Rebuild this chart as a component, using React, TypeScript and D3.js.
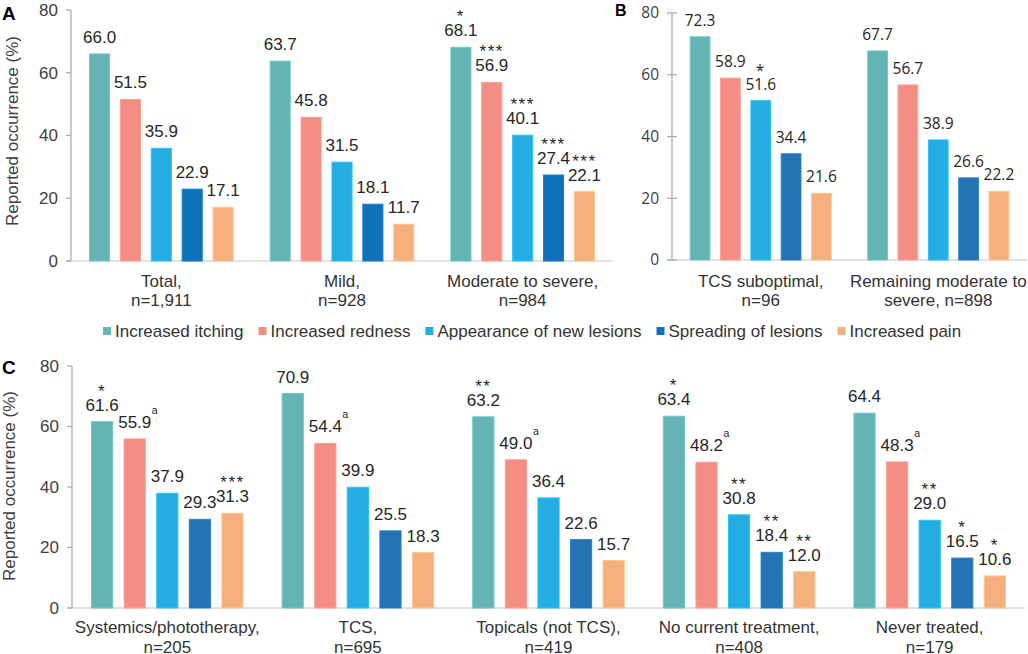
import * as d3 from "d3";
import * as React from "react";

const series = [
    "Increased itching",
    "Increased redness",
    "Appearance of new lesions",
    "Spreading of lesions",
    "Increased pain",
];
const coloursA = ["#63b4b2", "#f48d83", "#24ade3", "#1070b8", "#f5b07e"];
const coloursBC = ["#63b4b2", "#f48d83", "#24ade3", "#2473b5", "#f5b07e"];

const groupsA = [["Total,", "n=1,911"], ["Mild,", "n=928"], ["Moderate to severe,", "n=984"]];
const valuesA = [
    [66.0, 51.5, 35.9, 22.9, 17.1],
    [63.7, 45.8, 31.5, 18.1, 11.7],
    [68.1, 56.9, 40.1, 27.4, 22.1],
];
const starsA = [
    ["", "", "", "", ""],
    ["", "", "", "", ""],
    ["*", "***", "***", "***", "***"],
];

const groupsB = [["TCS suboptimal,", "n=96"], ["Remaining moderate to", "severe, n=898"]];
const valuesB = [
    [72.3, 58.9, 51.6, 34.4, 21.6],
    [67.7, 56.7, 38.9, 26.6, 22.2],
];
const starsB = [
    ["", "", "*", "", ""],
    ["", "", "", "", ""],
];

const groupsC = [
    ["Systemics/phototherapy,", "n=205"],
    ["TCS,", "n=695"],
    ["Topicals (not TCS),", "n=419"],
    ["No current treatment,", "n=408"],
    ["Never treated,", "n=179"],
];
const valuesC = [
    [61.6, 55.9, 37.9, 29.3, 31.3],
    [70.9, 54.4, 39.9, 25.5, 18.3],
    [63.2, 49.0, 36.4, 22.6, 15.7],
    [63.4, 48.2, 30.8, 18.4, 12.0],
    [64.4, 48.3, 29.0, 16.5, 10.6],
];
const starsC = [
    ["*", "", "", "", "***"],
    ["", "", "", "", ""],
    ["**", "", "", "", ""],
    ["*", "", "**", "**", "**"],
    ["", "", "**", "*", "*"],
];
const supsC = [
    ["", "a", "", "", ""],
    ["", "a", "", "", ""],
    ["", "a", "", "", ""],
    ["", "a", "", "", ""],
    ["", "a", "", "", ""],
];

const yTicks = [0, 20, 40, 60, 80];

const ARIAL = "'Liberation Sans', Arial, sans-serif";
const SEGOE = "'Open Sans', 'Noto Sans', sans-serif";

let canvasCtx: CanvasRenderingContext2D | null = null;
function textWidth(s: string, font: string): number {
    if (!canvasCtx) canvasCtx = document.createElement("canvas").getContext("2d");
    if (!canvasCtx) return s.length * 8;
    canvasCtx.font = font;
    return canvasCtx.measureText(s).width;
}

interface PanelProps {
    left: number;
    right: number;
    top: number;
    bottom: number;
    groups: string[][];
    values: number[][];
    stars: string[][];
    sups?: string[][];
    colours: string[];
    font: string;
    fontSize: number;
    crossTicks: boolean;
    catY: number;
    catGap: number;
}

function Panel(p: PanelProps): JSX.Element {
    const x0 = d3.scaleBand<number>()
        .domain(p.groups.map((_, i) => i))
        .range([p.left, p.right]);
    const x1 = d3.scaleBand<number>()
        .domain(series.map((_, i) => i))
        .range([0, x0.bandwidth()])
        .paddingInner(0.35)
        .paddingOuter(0.6);
    const y = d3.scaleLinear().domain([0, 80]).range([p.bottom, p.top]);
    const fmt = d3.format(".1f");
    const txt = "#262626";

    return (
        <g fontFamily={p.font} fontSize={p.fontSize}>
            <line x1={p.left - 4} x2={p.right} y1={y(0)} y2={y(0)} stroke="#d9d9d9" strokeWidth={1.5} />
            <line x1={p.left} x2={p.left} y1={y(80)} y2={y(0)} stroke="#a6a6a6" strokeWidth={1.2} />
            {yTicks.map(t => (
                <g key={t}>
                    <line x1={p.left - 5} x2={p.crossTicks ? p.left + 5 : p.left} y1={y(t)} y2={y(t)} stroke="#a6a6a6" strokeWidth={1.2} />
                    <text x={p.left - 13} y={y(t)} dy="0.35em" textAnchor="end" fill="#404040">{t}</text>
                </g>
            ))}
            {p.values.map((row, gi) => (
                <g key={gi} transform={`translate(${x0(gi)},0)`}>
                    {row.map((v, si) => {
                        const bx = x1(si) as number;
                        const cx = bx + x1.bandwidth() / 2;
                        const label = fmt(v);
                        const sup = p.sups ? p.sups[gi][si] : "";
                        const star = p.stars[gi][si];
                        const ly = y(v) - 11;
                        return (
                            <g key={si}>
                                <rect x={bx} y={y(v)} width={x1.bandwidth()} height={y(0) - y(v)}
                                    fill={p.colours[si]} stroke={d3.color(p.colours[si])!.brighter(0.3).toString()} strokeWidth={1} />
                                <text x={cx} y={ly} textAnchor="middle" fill={txt}>{label}</text>
                                {sup && (
                                    <text x={cx + textWidth(label, `${p.fontSize}px ${p.font}`) / 2 + 0.5} y={ly - 14}
                                        fontSize={p.fontSize * 0.62} fill={txt}>{sup}</text>
                                )}
                                {star && (
                                    <text x={cx} y={ly - 14} textAnchor="middle" fill={txt} letterSpacing={1.5}>{star}</text>
                                )}
                            </g>
                        );
                    })}
                    {p.groups[gi].map((line, li) => (
                        <text key={li} x={x0.bandwidth() / 2} y={p.catY + li * p.catGap} textAnchor="middle"
                            fontFamily={ARIAL} fontSize={17} fill="#333">{line}</text>
                    ))}
                </g>
            ))}
        </g>
    );
}

function Legend(props: { x: number; y: number }): JSX.Element {
    const font = `17px ${ARIAL}`;
    let cx = props.x;
    const items = series.map((s, i) => {
        const item = { s, i, x: cx };
        cx += 12 + textWidth(s, font) + 15;
        return item;
    });
    return (
        <g fontFamily={ARIAL} fontSize={17}>
            {items.map(it => (
                <g key={it.i} transform={`translate(${it.x},${props.y})`}>
                    <rect x={0} y={-4} width={8} height={8} fill={coloursA[it.i]} />
                    <text x={12} y={0} dy="0.35em" fill="#333">{it.s}</text>
                </g>
            ))}
        </g>
    );
}

export default function App(): JSX.Element {
    return (
        <svg width={1028} height={654} style={{ position: "absolute", left: 0, top: 0, background: "#fff" }}>
            <text x={2} y={20} fontFamily={ARIAL} fontWeight="bold" fontSize={19} fill="#000">A</text>
            <text x={615} y={16} fontFamily={ARIAL} fontWeight="bold" fontSize={16} fill="#000">B</text>
            <text x={2} y={374} fontFamily={ARIAL} fontWeight="bold" fontSize={19} fill="#000">C</text>

            <text transform="translate(18,131) rotate(-90)" textAnchor="middle" fontFamily={ARIAL} fontSize={17} fill="#404040">
                Reported occurrence (%)
            </text>
            <text transform="translate(15,486) rotate(-90)" textAnchor="middle" fontFamily={ARIAL} fontSize={17} fill="#404040">
                Reported occurrence (%)
            </text>

            <Panel left={71} right={613} top={10} bottom={261} groups={groupsA} values={valuesA} stars={starsA}
                colours={coloursA} font={ARIAL} fontSize={17} crossTicks={false} catY={287} catGap={19} />
            <Panel left={672} right={1027} top={13} bottom={260} groups={groupsB} values={valuesB} stars={starsB}
                colours={coloursBC} font={SEGOE} fontSize={15.5} crossTicks={true} catY={287} catGap={18.5} />
            <Panel left={72} right={1025} top={366} bottom={608} groups={groupsC} values={valuesC} stars={starsC}
                sups={supsC} colours={coloursBC} font={ARIAL} fontSize={17} crossTicks={false} catY={633} catGap={20} />

            <Legend x={103} y={331} />
        </svg>
    );
}
